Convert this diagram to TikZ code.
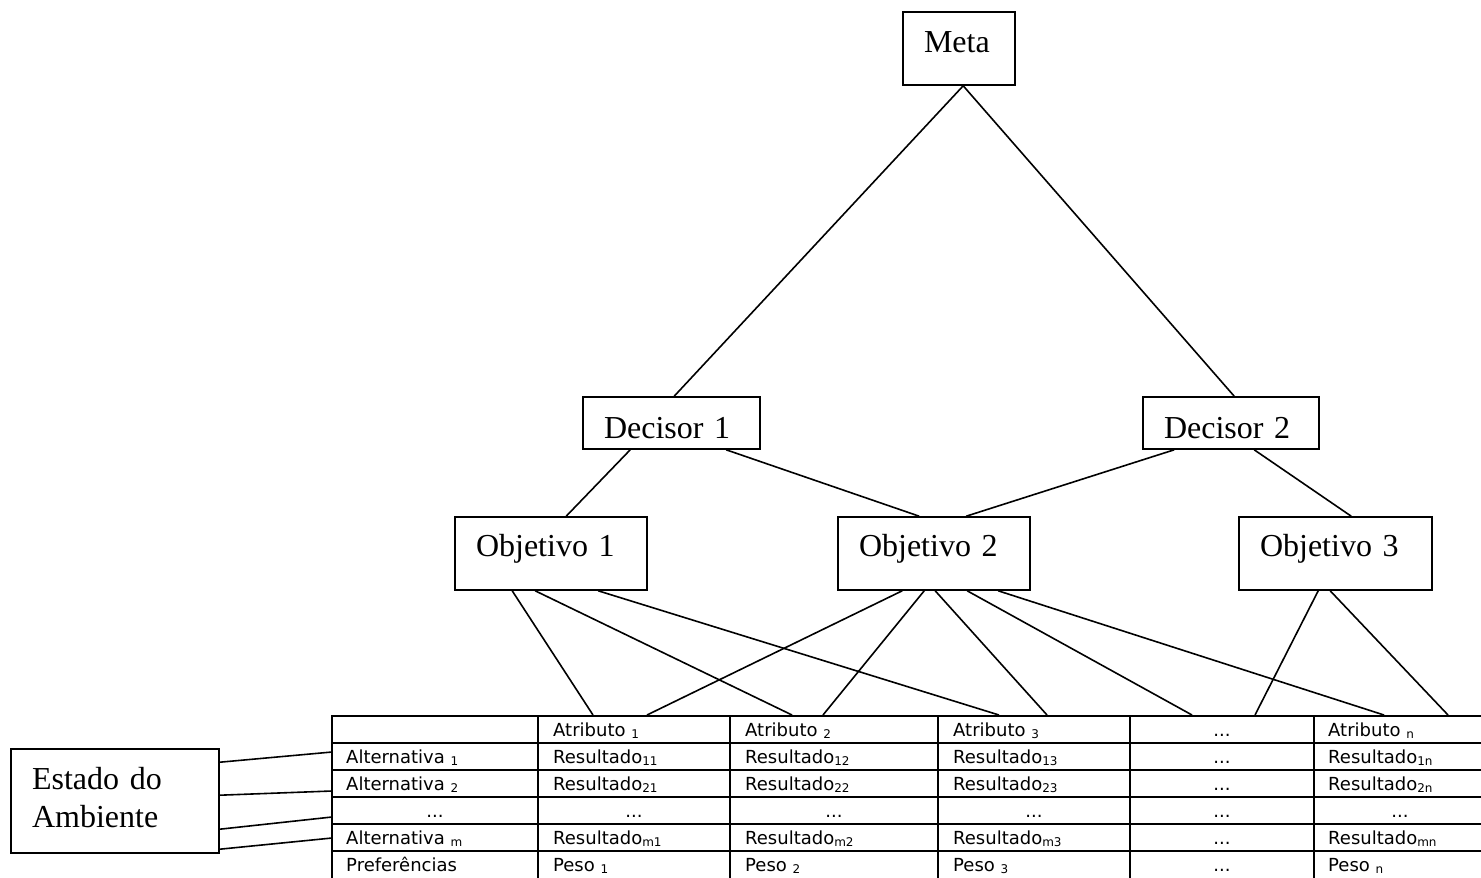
\documentclass[tikz,border=0pt]{standalone}
\usepackage{fontspec}
\setmainfont{Liberation Serif}
\newfontfamily\tabfont{DejaVu Sans}
\newcommand\sbx[1]{\raisebox{-2.5pt}{\fontsize{12}{12}\selectfont #1}}
\begin{document}
\begin{tikzpicture}[x=1pt,y=-1pt,
  box/.style={draw,line width=1.6pt,inner xsep=21pt,inner ysep=0pt,align=left,font=\fontsize{32}{38}\selectfont},
  conn/.style={line width=1.6pt},
  gridline/.style={line width=2pt},
  cell/.style={anchor=base west,inner sep=0pt,font=\tabfont\fontsize{18}{18}\selectfont},
  dots/.style={anchor=base,inner sep=0pt,font=\tabfont\fontsize{18}{18}\selectfont}]
\clip (0,0) rectangle (1481,878);
\fill[white] (0,0) rectangle (1481,878);

% boxes
\node[box,minimum width=112pt,minimum height=73pt,text width=70pt,text height=22pt,text depth=14.6pt] (meta) at (959,48.5) {Meta};
\node[box,minimum width=177pt,minimum height=52pt,text width=135pt,text height=30pt,text depth=0pt] (d1) at (671.5,423) {Decisor 1};
\node[box,minimum width=176pt,minimum height=52pt,text width=134pt,text height=30pt,text depth=0pt] (d2) at (1231,423) {Decisor 2};
\node[box,minimum width=192pt,minimum height=73pt,text width=150pt,text height=22pt,text depth=16pt] (o1) at (551,553.5) {Objetivo 1};
\node[box,minimum width=192pt,minimum height=73pt,text width=150pt,text height=22pt,text depth=16pt] (o2) at (934,553.5) {Objetivo 2};
\node[box,minimum width=193pt,minimum height=73pt,text width=151pt,text height=22pt,text depth=16pt] (o3) at (1335.5,553.5) {Objetivo 3};
\node[box,minimum width=208pt,minimum height=104pt,text width=166pt,text height=14pt,text depth=38pt] (e) at (115,801) {Estado do\\Ambiente};

% table top and left coordinates
\coordinate (t1) at (593,715);
\coordinate (t2) at (647,715);
\coordinate (t3) at (792,715);
\coordinate (t4) at (823,715);
\coordinate (t5) at (999,715);
\coordinate (t6) at (1047,715);
\coordinate (t7) at (1192,715);
\coordinate (t8) at (1255,715);
\coordinate (t9) at (1384,715);
\coordinate (t10) at (1448,715);
\coordinate (l1) at (332,752);
\coordinate (l2) at (332,791);
\coordinate (l3) at (332,817);
\coordinate (l4) at (332,838);

% connectors
\draw[conn] ([xshift=61pt]meta.south west) -- ([xshift=92pt]d1.north west);
\draw[conn] ([xshift=61pt]meta.south west) -- ([xshift=92pt]d2.north west);
\draw[conn] ([xshift=48pt]d1.south west) -- ([xshift=112pt]o1.north west);
\draw[conn] ([xshift=144pt]d1.south west) -- ([xshift=82pt]o2.north west);
\draw[conn] ([xshift=32pt]d2.south west) -- ([xshift=129pt]o2.north west);
\draw[conn] ([xshift=112pt]d2.south west) -- ([xshift=113pt]o3.north west);

\draw[conn] ([xshift=58pt]o1.south west) -- (t1);
\draw[conn] ([xshift=81pt]o1.south west) -- (t3);
\draw[conn] ([xshift=144pt]o1.south west) -- (t5);
\draw[conn] ([xshift=65pt]o2.south west) -- (t2);
\draw[conn] ([xshift=87pt]o2.south west) -- (t4);
\draw[conn] ([xshift=98pt]o2.south west) -- (t6);
\draw[conn] ([xshift=130pt]o2.south west) -- (t7);
\draw[conn] ([xshift=161pt]o2.south west) -- (t9);
\draw[conn] ([xshift=80pt]o3.south west) -- (t8);
\draw[conn] ([xshift=92pt]o3.south west) -- (t10);

\draw[conn] ([yshift=-14pt]e.north east) -- (l1);
\draw[conn] ([yshift=-47pt]e.north east) -- (l2);
\draw[conn] ([yshift=-81pt]e.north east) -- (l3);
\draw[conn] ([yshift=-101pt]e.north east) -- (l4);

% table grid
\foreach \yy in {716,743,770,797,824,851}
  \draw[gridline] (331,\yy) -- (1490,\yy);
\foreach \xx in {332,538,730,938,1130,1314}
  \draw[gridline] (\xx,715) -- (\xx,885);

% row 1
\node[cell] (a1) at (553,736) {Atributo \sbx{1}};
\node[cell] (a2) at (745,736) {Atributo \sbx{2}};
\node[cell] (a3) at (953,736) {Atributo \sbx{3}};
\node[dots] (a4) at (1222,736) {...};
\node[cell] (a5) at (1328,736) {Atributo \sbx{n}};
% row 2
\node[cell] (r1c0) at (346,763) {Alternativa \sbx{1}};
\node[cell] (r1c1) at (553,763) {Resultado\sbx{11}};
\node[cell] (r1c2) at (745,763) {Resultado\sbx{12}};
\node[cell] (r1c3) at (953,763) {Resultado\sbx{13}};
\node[dots] (r1c4) at (1222,763) {...};
\node[cell] (r1c5) at (1328,763) {Resultado\sbx{1n}};
% row 3
\node[cell] (r2c0) at (346,790) {Alternativa \sbx{2}};
\node[cell] (r2c1) at (553,790) {Resultado\sbx{21}};
\node[cell] (r2c2) at (745,790) {Resultado\sbx{22}};
\node[cell] (r2c3) at (953,790) {Resultado\sbx{23}};
\node[dots] (r2c4) at (1222,790) {...};
\node[cell] (r2c5) at (1328,790) {Resultado\sbx{2n}};
% row 4
\node[dots] (r3c0) at (435,817) {...};
\node[dots] (r3c1) at (634,817) {...};
\node[dots] (r3c2) at (834,817) {...};
\node[dots] (r3c3) at (1034,817) {...};
\node[dots] (r3c4) at (1222,817) {...};
\node[dots] (r3c5) at (1400,817) {...};
% row 5
\node[cell] (r4c0) at (346,844) {Alternativa \sbx{m}};
\node[cell] (r4c1) at (553,844) {Resultado\sbx{m1}};
\node[cell] (r4c2) at (745,844) {Resultado\sbx{m2}};
\node[cell] (r4c3) at (953,844) {Resultado\sbx{m3}};
\node[dots] (r4c4) at (1222,844) {...};
\node[cell] (r4c5) at (1328,844) {Resultado\sbx{mn}};
% row 6
\node[cell] (r5c0) at (346,871) {Preferências};
\node[cell] (r5c1) at (553,871) {Peso \sbx{1}};
\node[cell] (r5c2) at (745,871) {Peso \sbx{2}};
\node[cell] (r5c3) at (953,871) {Peso \sbx{3}};
\node[dots] (r5c4) at (1222,871) {...};
\node[cell] (r5c5) at (1328,871) {Peso \sbx{n}};
\end{tikzpicture}
\end{document}
